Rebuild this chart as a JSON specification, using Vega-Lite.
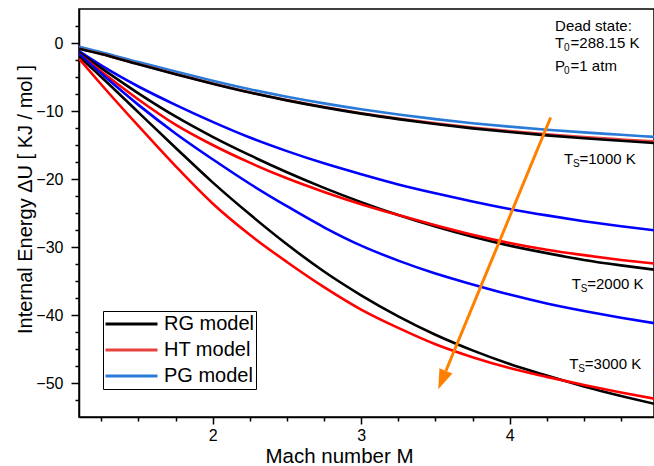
{
  "$schema": "https://vega.github.io/schema/vega-lite/v6.json",
  "width": 575,
  "height": 408,
  "autosize": {"type": "none"},
  "padding": {"left": 79, "top": 9, "right": 0, "bottom": 49},
  "background": "white",
  "config": {
    "view": {"stroke": "black", "strokeWidth": 1.5},
    "font": "Liberation Sans",
    "axis": {"domainColor": "black", "domainWidth": 1.5, "tickColor": "black", "tickWidth": 1.5, "labelColor": "black", "titleColor": "black", "grid": false, "labelFont": "Liberation Sans", "titleFont": "Liberation Sans", "titleFontWeight": "normal"},
    "text": {"font": "Liberation Sans"}
  },
  "datasets": {
    "curves": [
      {"M":1.1,"U":-0.55,"model":"PG model","Ts":1000},{"M":1.25,"U":-1.35,"model":"PG model","Ts":1000},{"M":1.5,"U":-2.8,"model":"PG model","Ts":1000},{"M":1.75,"U":-4.2,"model":"PG model","Ts":1000},{"M":2.0,"U":-5.55,"model":"PG model","Ts":1000},{"M":2.25,"U":-6.8,"model":"PG model","Ts":1000},{"M":2.5,"U":-7.9,"model":"PG model","Ts":1000},{"M":2.75,"U":-8.88,"model":"PG model","Ts":1000},{"M":3.0,"U":-9.75,"model":"PG model","Ts":1000},{"M":3.25,"U":-10.52,"model":"PG model","Ts":1000},{"M":3.5,"U":-11.2,"model":"PG model","Ts":1000},{"M":3.75,"U":-11.8,"model":"PG model","Ts":1000},{"M":4.0,"U":-12.3,"model":"PG model","Ts":1000},{"M":4.25,"U":-12.75,"model":"PG model","Ts":1000},{"M":4.5,"U":-13.15,"model":"PG model","Ts":1000},{"M":4.75,"U":-13.5,"model":"PG model","Ts":1000},{"M":5.0,"U":-13.85,"model":"PG model","Ts":1000},
      {"M":1.1,"U":-0.8,"model":"HT model","Ts":1000},{"M":1.25,"U":-1.6,"model":"HT model","Ts":1000},{"M":1.5,"U":-3.1,"model":"HT model","Ts":1000},{"M":1.75,"U":-4.55,"model":"HT model","Ts":1000},{"M":2.0,"U":-5.95,"model":"HT model","Ts":1000},{"M":2.25,"U":-7.25,"model":"HT model","Ts":1000},{"M":2.5,"U":-8.4,"model":"HT model","Ts":1000},{"M":2.75,"U":-9.42,"model":"HT model","Ts":1000},{"M":3.0,"U":-10.32,"model":"HT model","Ts":1000},{"M":3.25,"U":-11.12,"model":"HT model","Ts":1000},{"M":3.5,"U":-11.82,"model":"HT model","Ts":1000},{"M":3.75,"U":-12.43,"model":"HT model","Ts":1000},{"M":4.0,"U":-12.96,"model":"HT model","Ts":1000},{"M":4.25,"U":-13.42,"model":"HT model","Ts":1000},{"M":4.5,"U":-13.83,"model":"HT model","Ts":1000},{"M":4.75,"U":-14.18,"model":"HT model","Ts":1000},{"M":5.0,"U":-14.5,"model":"HT model","Ts":1000},
      {"M":1.1,"U":-0.83,"model":"RG model","Ts":1000},{"M":1.25,"U":-1.63,"model":"RG model","Ts":1000},{"M":1.5,"U":-3.13,"model":"RG model","Ts":1000},{"M":1.75,"U":-4.58,"model":"RG model","Ts":1000},{"M":2.0,"U":-5.98,"model":"RG model","Ts":1000},{"M":2.25,"U":-7.28,"model":"RG model","Ts":1000},{"M":2.5,"U":-8.44,"model":"RG model","Ts":1000},{"M":2.75,"U":-9.47,"model":"RG model","Ts":1000},{"M":3.0,"U":-10.39,"model":"RG model","Ts":1000},{"M":3.25,"U":-11.2,"model":"RG model","Ts":1000},{"M":3.5,"U":-11.92,"model":"RG model","Ts":1000},{"M":3.75,"U":-12.55,"model":"RG model","Ts":1000},{"M":4.0,"U":-13.1,"model":"RG model","Ts":1000},{"M":4.25,"U":-13.58,"model":"RG model","Ts":1000},{"M":4.5,"U":-14.0,"model":"RG model","Ts":1000},{"M":4.75,"U":-14.38,"model":"RG model","Ts":1000},{"M":5.0,"U":-14.75,"model":"RG model","Ts":1000},
      {"M":1.1,"U":-1.2,"model":"PG model","Ts":2000},{"M":1.25,"U":-3.3,"model":"PG model","Ts":2000},{"M":1.5,"U":-6.4,"model":"PG model","Ts":2000},{"M":1.75,"U":-9.1,"model":"PG model","Ts":2000},{"M":2.0,"U":-11.6,"model":"PG model","Ts":2000},{"M":2.25,"U":-13.9,"model":"PG model","Ts":2000},{"M":2.5,"U":-15.9,"model":"PG model","Ts":2000},{"M":2.75,"U":-17.7,"model":"PG model","Ts":2000},{"M":3.0,"U":-19.3,"model":"PG model","Ts":2000},{"M":3.25,"U":-20.8,"model":"PG model","Ts":2000},{"M":3.5,"U":-22.1,"model":"PG model","Ts":2000},{"M":3.75,"U":-23.3,"model":"PG model","Ts":2000},{"M":4.0,"U":-24.4,"model":"PG model","Ts":2000},{"M":4.25,"U":-25.35,"model":"PG model","Ts":2000},{"M":4.5,"U":-26.2,"model":"PG model","Ts":2000},{"M":4.75,"U":-26.95,"model":"PG model","Ts":2000},{"M":5.0,"U":-27.6,"model":"PG model","Ts":2000},
      {"M":1.1,"U":-1.4,"model":"RG model","Ts":2000},{"M":1.25,"U":-3.7,"model":"RG model","Ts":2000},{"M":1.5,"U":-7.4,"model":"RG model","Ts":2000},{"M":1.75,"U":-10.8,"model":"RG model","Ts":2000},{"M":2.0,"U":-13.8,"model":"RG model","Ts":2000},{"M":2.25,"U":-16.5,"model":"RG model","Ts":2000},{"M":2.5,"U":-19.0,"model":"RG model","Ts":2000},{"M":2.75,"U":-21.3,"model":"RG model","Ts":2000},{"M":3.0,"U":-23.4,"model":"RG model","Ts":2000},{"M":3.25,"U":-25.3,"model":"RG model","Ts":2000},{"M":3.5,"U":-27.0,"model":"RG model","Ts":2000},{"M":3.75,"U":-28.5,"model":"RG model","Ts":2000},{"M":4.0,"U":-29.8,"model":"RG model","Ts":2000},{"M":4.25,"U":-30.9,"model":"RG model","Ts":2000},{"M":4.5,"U":-31.9,"model":"RG model","Ts":2000},{"M":4.75,"U":-32.7,"model":"RG model","Ts":2000},{"M":5.0,"U":-33.4,"model":"RG model","Ts":2000},
      {"M":1.1,"U":-1.6,"model":"HT model","Ts":2000},{"M":1.25,"U":-4.2,"model":"HT model","Ts":2000},{"M":1.5,"U":-8.3,"model":"HT model","Ts":2000},{"M":1.75,"U":-12.0,"model":"HT model","Ts":2000},{"M":2.0,"U":-15.0,"model":"HT model","Ts":2000},{"M":2.25,"U":-17.6,"model":"HT model","Ts":2000},{"M":2.5,"U":-19.9,"model":"HT model","Ts":2000},{"M":2.75,"U":-21.9,"model":"HT model","Ts":2000},{"M":3.0,"U":-23.7,"model":"HT model","Ts":2000},{"M":3.25,"U":-25.3,"model":"HT model","Ts":2000},{"M":3.5,"U":-26.8,"model":"HT model","Ts":2000},{"M":3.75,"U":-28.2,"model":"HT model","Ts":2000},{"M":4.0,"U":-29.4,"model":"HT model","Ts":2000},{"M":4.25,"U":-30.4,"model":"HT model","Ts":2000},{"M":4.5,"U":-31.2,"model":"HT model","Ts":2000},{"M":4.75,"U":-31.9,"model":"HT model","Ts":2000},{"M":5.0,"U":-32.5,"model":"HT model","Ts":2000},
      {"M":1.1,"U":-1.6,"model":"PG model","Ts":3000},{"M":1.25,"U":-4.5,"model":"PG model","Ts":3000},{"M":1.5,"U":-9.1,"model":"PG model","Ts":3000},{"M":1.75,"U":-13.3,"model":"PG model","Ts":3000},{"M":2.0,"U":-17.1,"model":"PG model","Ts":3000},{"M":2.25,"U":-20.7,"model":"PG model","Ts":3000},{"M":2.5,"U":-24.0,"model":"PG model","Ts":3000},{"M":2.75,"U":-27.1,"model":"PG model","Ts":3000},{"M":3.0,"U":-29.8,"model":"PG model","Ts":3000},{"M":3.25,"U":-32.0,"model":"PG model","Ts":3000},{"M":3.5,"U":-33.9,"model":"PG model","Ts":3000},{"M":3.75,"U":-35.5,"model":"PG model","Ts":3000},{"M":4.0,"U":-37.0,"model":"PG model","Ts":3000},{"M":4.25,"U":-38.3,"model":"PG model","Ts":3000},{"M":4.5,"U":-39.4,"model":"PG model","Ts":3000},{"M":4.75,"U":-40.4,"model":"PG model","Ts":3000},{"M":5.0,"U":-41.3,"model":"PG model","Ts":3000},
      {"M":1.1,"U":-2.0,"model":"RG model","Ts":3000},{"M":1.25,"U":-5.0,"model":"RG model","Ts":3000},{"M":1.5,"U":-10.2,"model":"RG model","Ts":3000},{"M":1.75,"U":-15.4,"model":"RG model","Ts":3000},{"M":2.0,"U":-20.5,"model":"RG model","Ts":3000},{"M":2.25,"U":-25.2,"model":"RG model","Ts":3000},{"M":2.5,"U":-29.6,"model":"RG model","Ts":3000},{"M":2.75,"U":-33.6,"model":"RG model","Ts":3000},{"M":3.0,"U":-37.1,"model":"RG model","Ts":3000},{"M":3.25,"U":-40.2,"model":"RG model","Ts":3000},{"M":3.5,"U":-42.9,"model":"RG model","Ts":3000},{"M":3.75,"U":-45.2,"model":"RG model","Ts":3000},{"M":4.0,"U":-47.2,"model":"RG model","Ts":3000},{"M":4.25,"U":-48.9,"model":"RG model","Ts":3000},{"M":4.5,"U":-50.5,"model":"RG model","Ts":3000},{"M":4.75,"U":-51.9,"model":"RG model","Ts":3000},{"M":5.0,"U":-53.2,"model":"RG model","Ts":3000},
      {"M":1.1,"U":-2.3,"model":"HT model","Ts":3000},{"M":1.25,"U":-6.1,"model":"HT model","Ts":3000},{"M":1.5,"U":-12.2,"model":"HT model","Ts":3000},{"M":1.75,"U":-18.1,"model":"HT model","Ts":3000},{"M":2.0,"U":-23.6,"model":"HT model","Ts":3000},{"M":2.25,"U":-28.2,"model":"HT model","Ts":3000},{"M":2.5,"U":-32.2,"model":"HT model","Ts":3000},{"M":2.75,"U":-35.9,"model":"HT model","Ts":3000},{"M":3.0,"U":-39.2,"model":"HT model","Ts":3000},{"M":3.25,"U":-41.9,"model":"HT model","Ts":3000},{"M":3.5,"U":-44.3,"model":"HT model","Ts":3000},{"M":3.75,"U":-46.2,"model":"HT model","Ts":3000},{"M":4.0,"U":-47.8,"model":"HT model","Ts":3000},{"M":4.25,"U":-49.1,"model":"HT model","Ts":3000},{"M":4.5,"U":-50.3,"model":"HT model","Ts":3000},{"M":4.75,"U":-51.4,"model":"HT model","Ts":3000},{"M":5.0,"U":-52.4,"model":"HT model","Ts":3000}
    ],
    "notes": [
      {"part":"head","text":"Dead state:","M":4.306,"U":1.82},
      {"part":"lead","text":"T","M":4.306,"U":-0.79},
      {"part":"sub","text":"0","M":4.306,"U":-0.79},
      {"part":"tail","text":"=288.15 K","M":4.306,"U":-0.79},
      {"part":"lead","text":"P","M":4.306,"U":-4.13},
      {"part":"sub","text":"0","M":4.306,"U":-4.13},
      {"part":"tail","text":"=1 atm","M":4.306,"U":-4.13},
      {"part":"lead","text":"T","M":4.366,"U":-17.85},
      {"part":"sub","text":"S","M":4.366,"U":-17.85},
      {"part":"tail","text":"=1000 K","M":4.366,"U":-17.85},
      {"part":"lead","text":"T","M":4.418,"U":-36.2},
      {"part":"sub","text":"S","M":4.418,"U":-36.2},
      {"part":"tail","text":"=2000 K","M":4.418,"U":-36.2},
      {"part":"lead","text":"T","M":4.402,"U":-48.0},
      {"part":"sub","text":"S","M":4.402,"U":-48.0},
      {"part":"tail","text":"=3000 K","M":4.402,"U":-48.0}
    ],
    "arrow": [{"M":4.276,"U":-10.96},{"M":3.571,"U":-48.2}],
    "arrowhead": [{"M":3.545,"U":-49.57}]
  },
  "resolve": {"axis": {"x": "independent", "y": "independent"}, "scale": {"color": "independent"}, "legend": {"color": "independent"}},
  "layer": [
    {
      "data": {"name": "curves"},
      "transform": [{"filter": "datum.Ts > 1000"}],
      "mark": {"type": "line", "strokeWidth": 2.6, "interpolate": "monotone", "clip": true},
      "encoding": {
        "x": {"field": "M", "type": "quantitative", "scale": {"domain": [1.1, 4.972], "nice": false, "zero": false},
              "axis": {"orient": "bottom", "values": [1.25,1.5,1.75,2.25,2.5,2.75,3.25,3.5,3.75,4.25,4.5,4.75], "labels": false, "domain": false, "tickSize": 4, "title": null}},
        "y": {"field": "U", "type": "quantitative", "scale": {"domain": [-55, 5], "nice": false, "zero": false},
              "axis": {"orient": "left", "values": [-52.5,-47.5,-45,-42.5,-37.5,-35,-32.5,-27.5,-25,-22.5,-17.5,-15,-12.5,-7.5,-5,-2.5,2.5], "labels": false, "domain": false, "tickSize": 4, "title": null}},
        "color": {"field": "model", "type": "nominal", "scale": {"domain": ["RG model","HT model","PG model"], "range": ["#000000","#ff0000","#0000ff"]}, "legend": null},
        "detail": {"field": "Ts", "type": "nominal"},
        "order": {"field": "M", "type": "quantitative"}
      }
    },
    {
      "data": {"name": "curves"},
      "transform": [{"filter": "datum.Ts == 1000"}],
      "mark": {"type": "line", "strokeWidth": 2.6, "interpolate": "monotone", "clip": true},
      "encoding": {
        "x": {"field": "M", "type": "quantitative", "scale": {"domain": [1.1, 4.972], "nice": false, "zero": false},
              "axis": {"orient": "bottom", "values": [2,3,4], "tickSize": 7, "labelFontSize": 16, "labelPadding": 3, "title": "Mach number M", "titleFontSize": 20.5, "titleX": 260, "titleY": 45, "titleBaseline": "alphabetic", "titleAlign": "center"}},
        "y": {"field": "U", "type": "quantitative", "scale": {"domain": [-55, 5], "nice": false, "zero": false},
              "axis": {"orient": "left", "values": [-50,-40,-30,-20,-10,0], "tickSize": 8, "labelFontSize": 16, "labelPadding": 8, "title": "Internal Energy ΔU [ KJ / mol ]", "titleFontSize": 20, "titleX": -54, "titleY": 190, "titleBaseline": "middle", "titleAlign": "center", "titleAngle": 270}},
        "color": {"field": "model", "type": "nominal", "scale": {"domain": ["RG model","HT model","PG model"], "range": ["#000000","#e8423f","#2a7ad8"]},
                  "legend": {"orient": "none", "legendX": 24, "legendY": 302, "title": null, "symbolType": "stroke", "symbolSize": 2700, "symbolStrokeWidth": 3, "clipHeight": 24, "labelFontSize": 20, "labelFont": "Liberation Sans", "labelColor": "black", "strokeColor": "black", "fillColor": "white", "padding": 1, "labelOffset": 5, "rowPadding": 2}},
        "order": {"field": "M", "type": "quantitative"}
      }
    },
    {
      "data": {"name": "arrow"},
      "mark": {"type": "line", "color": "#ff8000", "strokeWidth": 3},
      "encoding": {
        "x": {"field": "M", "type": "quantitative", "axis": null},
        "y": {"field": "U", "type": "quantitative", "axis": null}
      }
    },
    {
      "data": {"name": "arrowhead"},
      "mark": {"type": "point", "shape": "M-0.7,-1L0.7,-1L0,1Z", "size": 400, "angle": 22.5, "filled": true, "color": "#ff8000", "opacity": 1, "strokeWidth": 0},
      "encoding": {
        "x": {"field": "M", "type": "quantitative", "axis": null},
        "y": {"field": "U", "type": "quantitative", "axis": null}
      }
    },
    {
      "data": {"name": "notes"},
      "transform": [{"filter": "datum.part == 'head' || datum.part == 'lead'"}],
      "mark": {"type": "text", "align": "left", "baseline": "alphabetic", "fontSize": 15, "color": "black"},
      "encoding": {
        "x": {"field": "M", "type": "quantitative", "axis": null},
        "y": {"field": "U", "type": "quantitative", "axis": null},
        "text": {"field": "text"}
      }
    },
    {
      "data": {"name": "notes"},
      "transform": [{"filter": "datum.part == 'sub'"}],
      "mark": {"type": "text", "align": "left", "baseline": "alphabetic", "fontSize": 10, "dx": 9, "dy": 3, "color": "black"},
      "encoding": {
        "x": {"field": "M", "type": "quantitative", "axis": null},
        "y": {"field": "U", "type": "quantitative", "axis": null},
        "text": {"field": "text"}
      }
    },
    {
      "data": {"name": "notes"},
      "transform": [{"filter": "datum.part == 'tail'"}],
      "mark": {"type": "text", "align": "left", "baseline": "alphabetic", "fontSize": 15, "dx": 15.5, "color": "black"},
      "encoding": {
        "x": {"field": "M", "type": "quantitative", "axis": null},
        "y": {"field": "U", "type": "quantitative", "axis": null},
        "text": {"field": "text"}
      }
    }
  ]
}
